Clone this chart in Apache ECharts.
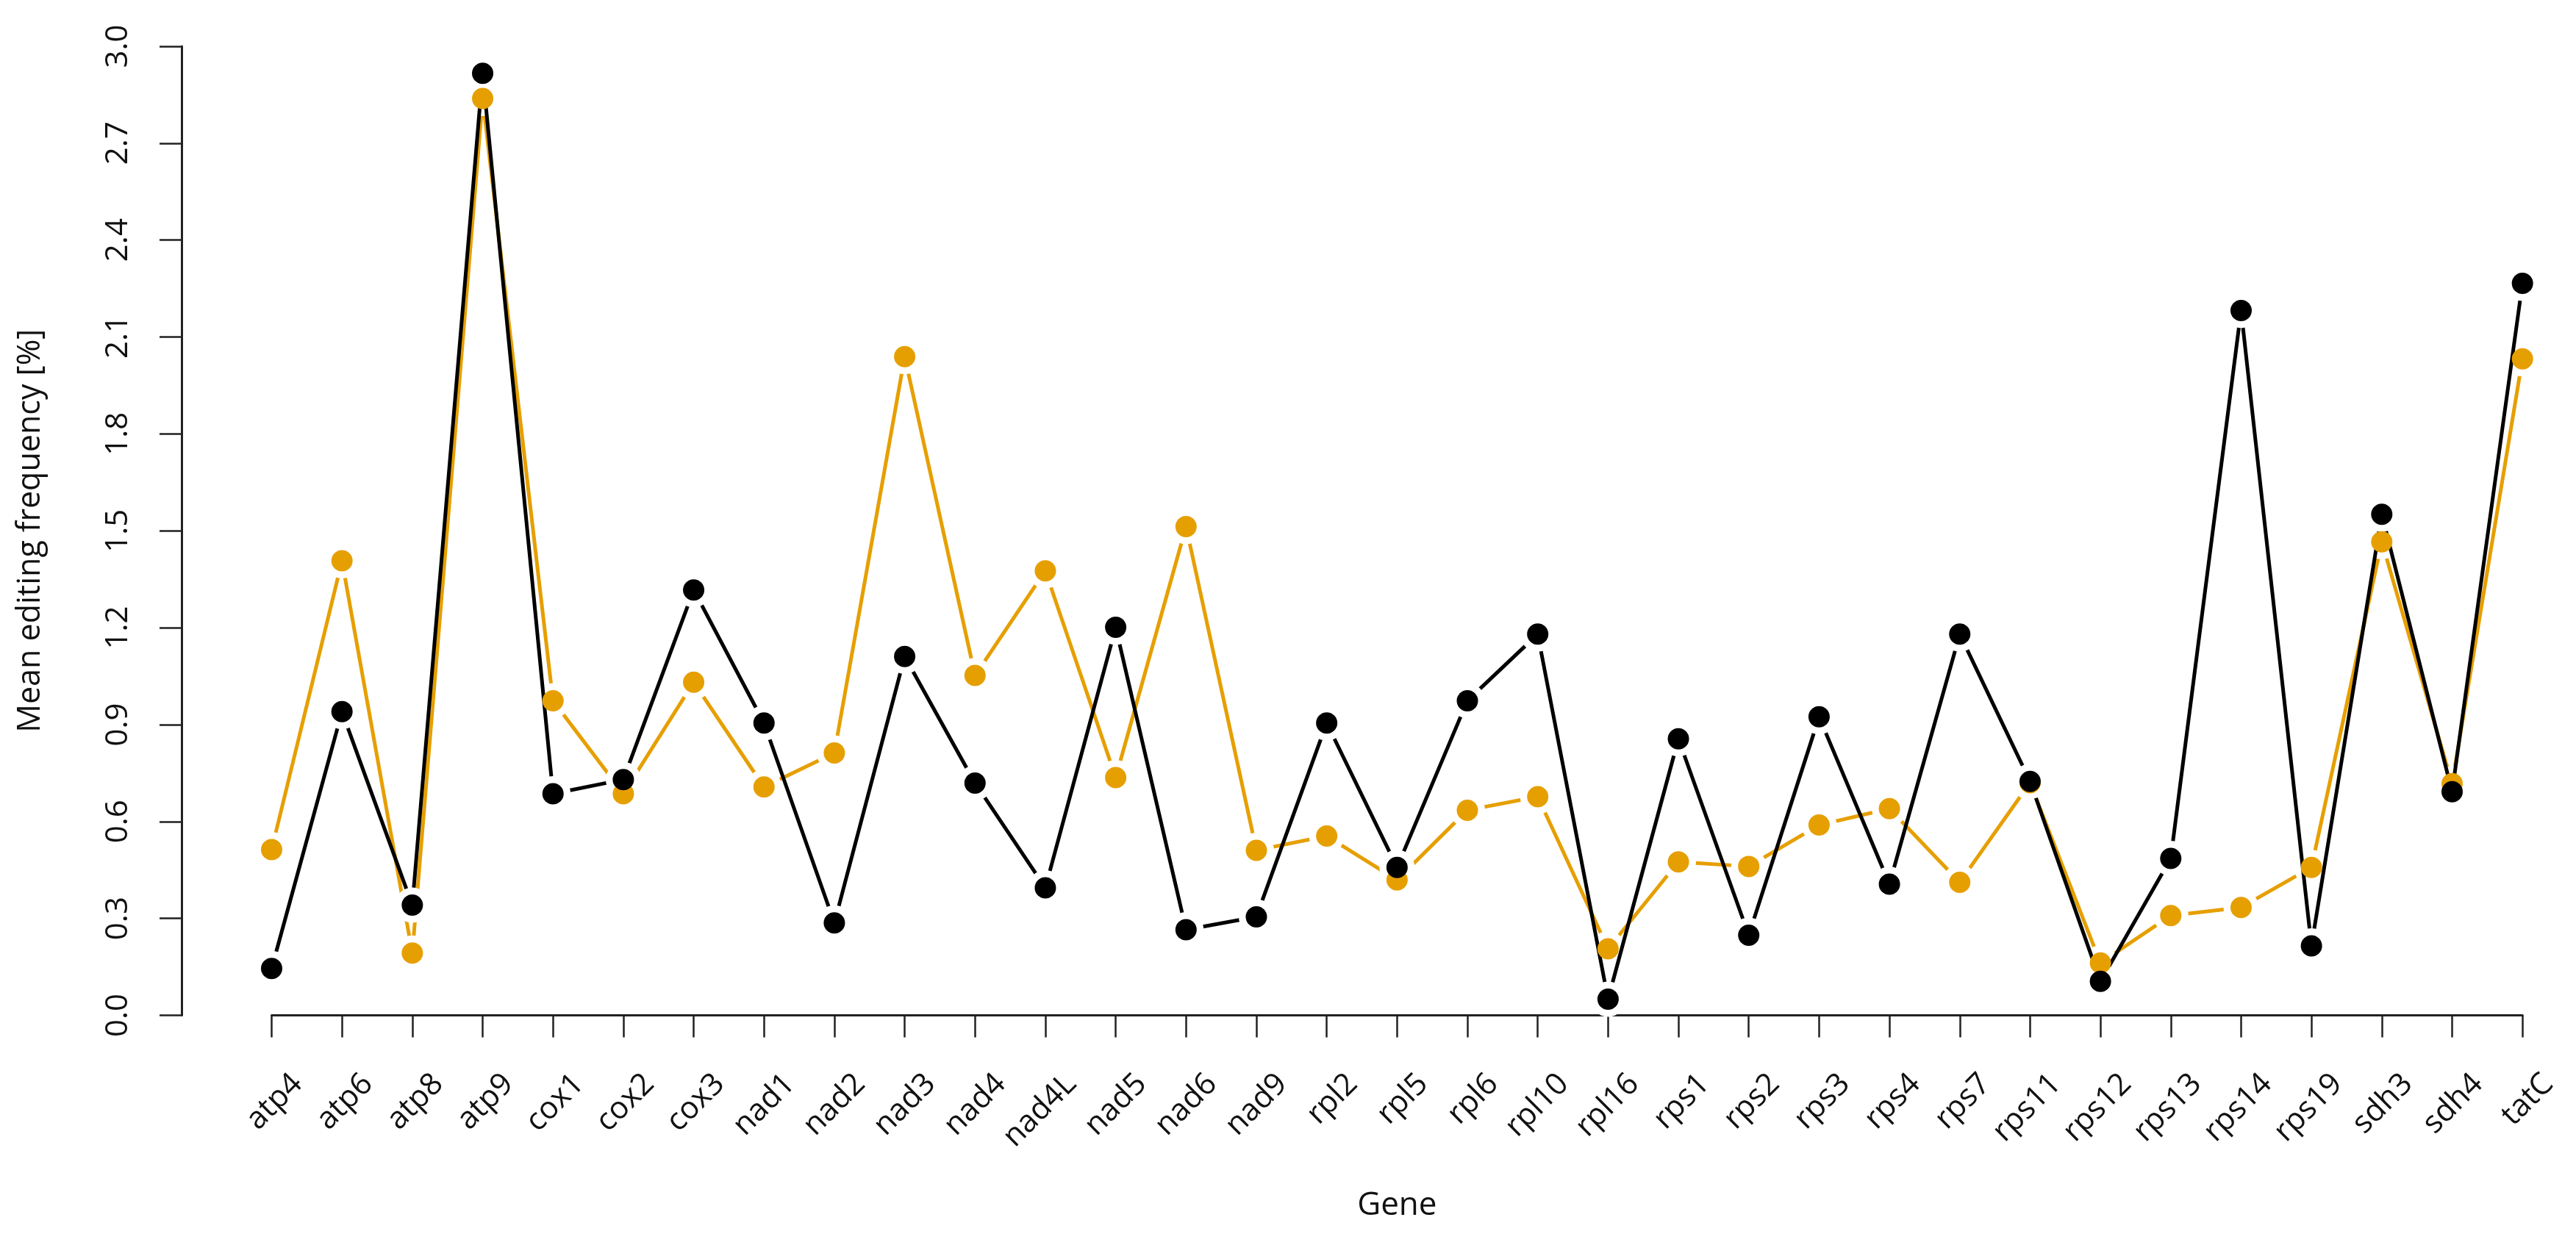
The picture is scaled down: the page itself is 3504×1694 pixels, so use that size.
<!DOCTYPE html>
<html>
<head>
<meta charset="utf-8">
<script src="https://cdn.jsdelivr.net/npm/echarts@6/dist/echarts.min.js"></script>
<style>
html,body{margin:0;padding:0;background:#fff;}
#c{width:3504px;height:1694px;}
</style>
</head>
<body>
<div id="c"></div>
<script>
const genes = ['atp4','atp6','atp8','atp9','cox1','cox2','cox3','nad1','nad2','nad3','nad4','nad4L','nad5','nad6','nad9','rpl2','rpl5','rpl6','rpl10','rpl16','rps1','rps2','rps3','rps4','rps7','rps11','rps12','rps13','rps14','rps19','sdh3','sdh4','tatC'];
const blackValues = [0.145,0.940,0.341,2.916,0.686,0.730,1.317,0.905,0.286,1.111,0.719,0.395,1.201,0.265,0.305,0.905,0.458,0.974,1.180,0.050,0.856,0.248,0.924,0.406,1.180,0.724,0.105,0.486,2.182,0.215,1.551,0.692,2.266];
const orangeValues = [0.513,1.407,0.193,2.838,0.974,0.686,1.031,0.707,0.812,2.039,1.052,1.376,0.736,1.513,0.511,0.555,0.419,0.635,0.677,0.206,0.475,0.461,0.589,0.640,0.412,0.720,0.162,0.309,0.334,0.458,1.466,0.717,2.032];
const yTicks = {min: 0, max: 3.0, interval: 0.3};

const ORANGE = '#E69F00';
const BLACK = '#000000';
const FONT = 'Open Sans';

const chart = echarts.init(document.getElementById('c'), null, {renderer: 'canvas'});

function lineSeries(data, color, z) {
  return {type: 'line', data: data, z: z, showSymbol: false, symbol: 'none',
    lineStyle: {color: color, width: 5}, silent: true, animation: false};
}
function dotSeries(data, color, size, z) {
  return {type: 'scatter', data: data, z: z, symbol: 'circle', symbolSize: size,
    itemStyle: {color: color, opacity: 1}, silent: true, animation: false};
}

chart.setOption({
  animation: false,
  backgroundColor: '#ffffff',
  grid: {left: 369.5, right: 61.4, top: 62.9, bottom: 312.5, containLabel: false},
  xAxis: {
    type: 'category', data: genes, boundaryGap: false, offset: 51.5,
    axisLine: {show: true, lineStyle: {color: '#222', width: 3}},
    axisTick: {show: true, length: 30, interval: 0, lineStyle: {color: '#222', width: 2.5}},
    axisLabel: {show: true, interval: 0, rotate: 45, margin: 0, verticalAlign: 'top', lineHeight: 100,
      fontSize: 42, fontFamily: FONT, color: '#111'},
    splitLine: {show: false},
    name: 'Gene', nameLocation: 'middle', nameGap: 184,
    nameTextStyle: {fontSize: 44, fontFamily: FONT, color: '#111', lineHeight: 46}
  },
  yAxis: {
    type: 'value', min: yTicks.min, max: yTicks.max, interval: yTicks.interval, offset: 122.5,
    axisLine: {show: true, lineStyle: {color: '#222', width: 3}},
    axisTick: {show: true, length: 30, lineStyle: {color: '#222', width: 2.5}},
    axisLabel: {show: true, rotate: 90, margin: 64, fontSize: 42, fontFamily: FONT, color: '#111', lineHeight: 44,
      formatter: v => Number(v).toFixed(1)},
    splitLine: {show: false},
    name: 'Mean editing frequency [%]', nameLocation: 'middle', nameGap: 183,
    nameTextStyle: {fontSize: 43, fontFamily: FONT, color: '#111', lineHeight: 44}
  },
  series: [
    lineSeries(orangeValues, ORANGE, 1),
    dotSeries(orangeValues, '#ffffff', 48, 2),
    lineSeries(blackValues, BLACK, 3),
    dotSeries(blackValues, '#ffffff', 48, 4),
    dotSeries(orangeValues, ORANGE, 29, 5),
    dotSeries(blackValues, BLACK, 29, 6)
  ]
});
</script>
</body>
</html>
